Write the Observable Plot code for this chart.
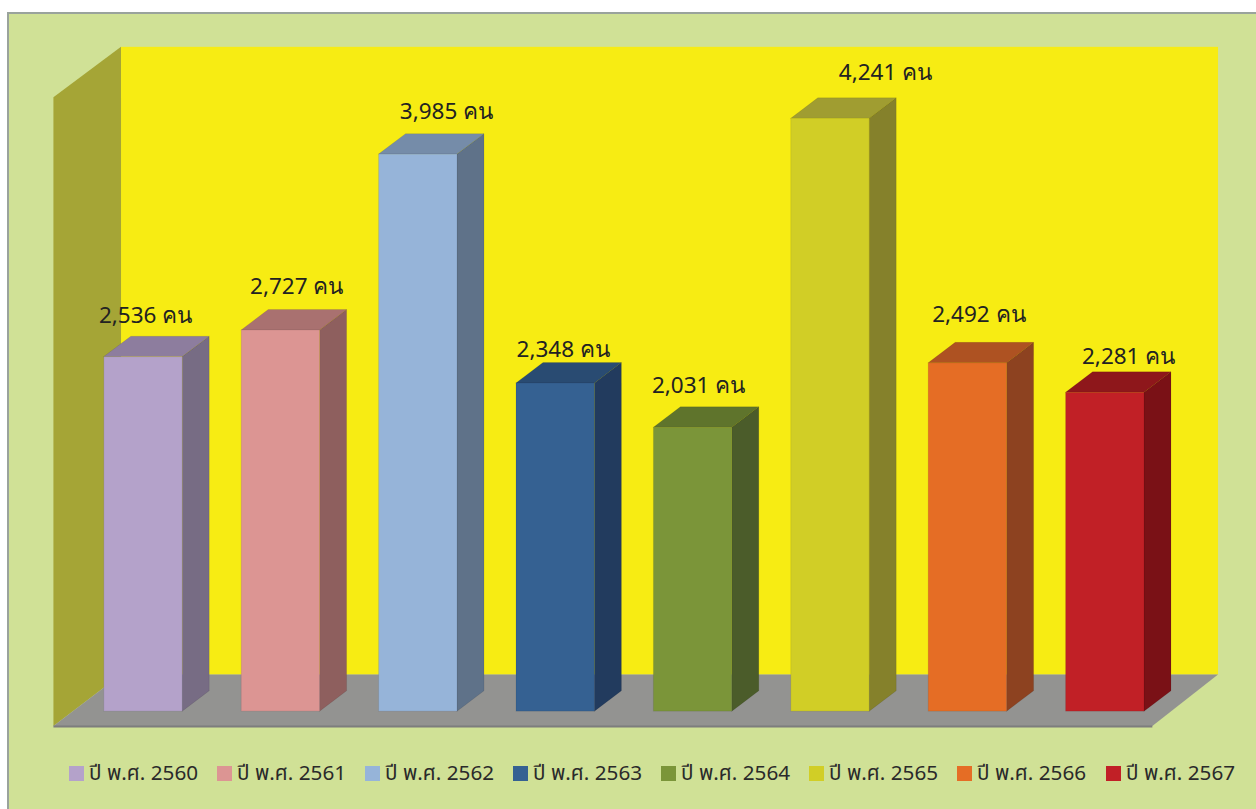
<!DOCTYPE html>
<html><head><meta charset="utf-8">
<script src="https://cdn.jsdelivr.net/npm/d3@7"></script>
<script src="https://cdn.jsdelivr.net/npm/@observablehq/plot@0.6"></script>
<style>
html,body{margin:0;padding:0;background:#fff;overflow:hidden}
#frame{position:absolute;left:7px;top:12px;width:1249px;height:797px;box-sizing:border-box;border:2px solid #9aa39c;border-right:none;border-bottom:none;background:#d0e196;overflow:hidden}
#chart{position:absolute;left:-9px;top:-14px}
#legend{position:absolute;left:-9px;top:739px;font:20.7px Tahoma,"Noto Sans","Noto Sans Thai",sans-serif;color:#2a2a2a}
.it{display:flex;align-items:center;white-space:nowrap;position:absolute;top:0;height:40px}
.sw{width:15px;height:15px;display:inline-block;margin-right:5px}
</style></head><body>
<div id="frame"><div id="chart"></div><div id="legend"></div></div>
<script>
const years = ["ปี พ.ศ. 2560","ปี พ.ศ. 2561","ปี พ.ศ. 2562","ปี พ.ศ. 2563","ปี พ.ศ. 2564","ปี พ.ศ. 2565","ปี พ.ศ. 2566","ปี พ.ศ. 2567"];
const values = [2536,2727,3985,2348,2031,4241,2492,2281];
const labels = ["2,536 คน","2,727 คน","3,985 คน","2,348 คน","2,031 คน","4,241 คน","2,492 คน","2,281 คน"];
const frontColors = ["#b4a2ca","#dc9593","#96b4d9","#356192","#7b9539","#d1ce26","#e56d25","#c12026"];
const topColors = ["#8d7d9e","#a97170","#758ca9","#294b72","#5f742c","#a09d31","#ae5222","#8e171b"];
const sideColors = ["#776c84","#8e5f5e","#5f7289","#223b5e","#4b5c2a","#85812b","#8d4220","#7a1116"];
const legendLeft = [69,217,365,513,661,809,957,1106];
// manual label placement, in scale units relative to each bar's top-back edge
const labelShiftX = [0.015,0.115,0.205,0.055,0.04,0.40,0.08,0.17];
const labelShiftY = [150,165,157,93,157,186,200,114];

const halfBar = 0.2853, depthX = 0.1965, depthY = 146;
const baseY = 0, floorFront = -107, wallBack = 262;
const frontLeft = -0.652, frontRight = 7.346, backLeft = -0.160, backRight = 7.824;
const wallTop = 4752, leftWallTop = 4392;

const bars = values.map((v,i)=>({i,v,label:labels[i],year:years[i],front:frontColors[i],top:topColors[i],side:sideColors[i],sx:labelShiftX[i],sy:labelShiftY[i]}));
const sidePts = bars.flatMap(b=>[
  {k:b.i,c:b.side,x:b.i+halfBar,y1:baseY,y2:b.v},
  {k:b.i,c:b.side,x:b.i+halfBar+depthX,y1:baseY+depthY,y2:b.v+depthY}]);
const topPts = bars.flatMap(b=>[
  {k:b.i,c:b.top,y:b.v,x1:b.i-halfBar,x2:b.i+halfBar},
  {k:b.i,c:b.top,y:b.v+depthY,x1:b.i-halfBar+depthX,x2:b.i+halfBar+depthX}]);
const leftWall = [
  {x:frontLeft,y1:floorFront,y2:leftWallTop},
  {x:backLeft,y1:wallBack,y2:wallTop}];
const floor = [
  {y:floorFront,x1:frontLeft,x2:frontRight},
  {y:wallBack,x1:backLeft,x2:backRight}];

const chart = Plot.plot({
  width:1256,height:809,margin:0,
  x:{type:"linear",domain:[-1.0408,8.1004],range:[0,1256],axis:null},
  y:{type:"linear",domain:[-700,5087],range:[809,0],axis:null},
  style:{background:"transparent"},
  color:{type:"identity"},
  marks:[
    Plot.rect([{}],{x1:backLeft,x2:backRight,y1:wallBack,y2:wallTop,fill:"#f7ec13"}),
    Plot.areaY(leftWall,{x:"x",y1:"y1",y2:"y2",fill:"#a5a536"}),
    Plot.areaX(floor,{y:"y",x1:"x1",x2:"x2",fill:"#939391"}),
    Plot.ruleY([floorFront],{x1:frontLeft,x2:frontRight,stroke:"#7d7d7d",strokeWidth:2}),
    Plot.areaY(sidePts,{x:"x",y1:"y1",y2:"y2",z:"k",fill:"c",stroke:"#000",strokeOpacity:0.08}),
    Plot.areaX(topPts,{y:"y",x1:"x1",x2:"x2",z:"k",fill:"c",stroke:"#000",strokeOpacity:0.08}),
    Plot.rect(bars,{x1:d=>d.i-halfBar,x2:d=>d.i+halfBar,y1:baseY,y2:"v",fill:"front",stroke:"#000",strokeOpacity:0.08}),
    Plot.text(bars,{x:d=>d.i+d.sx,y:d=>d.v+depthY+d.sy,text:"label",fontSize:22.5,fill:"#222",fontFamily:'Tahoma,"Noto Sans",sans-serif'})
  ]
});
document.getElementById("chart").append(chart);
const lg=document.getElementById("legend");
years.forEach((y,i)=>{
  const it=document.createElement("div");it.className="it";it.style.left=legendLeft[i]+"px";
  const s=document.createElement("span");s.className="sw";s.style.background=frontColors[i];
  it.append(s,document.createTextNode(y));lg.append(it);
});
</script></body></html>
